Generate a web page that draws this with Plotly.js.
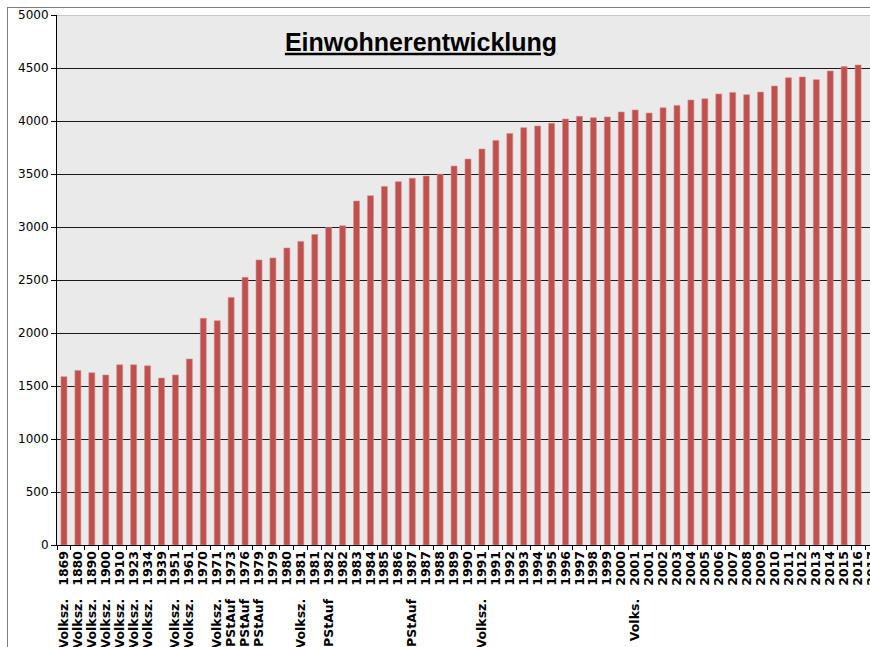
<!DOCTYPE html>
<html>
<head>
<meta charset="utf-8">
<script src="https://cdn.plot.ly/plotly-3.0.1.min.js"></script>
<style>
  html, body { margin: 0; padding: 0; overflow: hidden; background: #fff; }
  #wrap { position: relative; width: 870px; height: 647px; overflow: hidden; }
  #chart { position: absolute; left: 0; top: 0; }
  #frame { position: absolute; left: 7px; top: 7px; width: 900px; height: 700px;
           border-left: 1.5px solid #7f7f7f; border-top: 1.5px solid #7f7f7f;
           pointer-events: none; }
</style>
</head>
<body>
<div id="wrap">
  <div id="chart"></div>
  <div id="frame"></div>
</div>
<script>
// Label prefixes (survey type) and years for each column
var prefixes = [
  "Volksz.", "Volksz.", "Volksz.", "Volksz.", "Volksz.", "Volksz.", "Volksz.", "",
  "Volksz.", "Volksz.", "", "Volksz.", "PStAuf", "PStAuf", "PStAuf", "", "",
  "Volksz.", "", "PStAuf", "", "", "", "", "", "PStAuf", "", "", "", "",
  "Volksz.", "", "", "", "", "", "", "", "", "", "", "Volks.", "", "", "",
  "", "", "", "", "", "", "", "", "", "", "", "", "", ""
];
var years = [
  "1869", "1880", "1890", "1900", "1910", "1923", "1934", "1939",
  "1951", "1961", "1970", "1971", "1973", "1976", "1979", "1979", "1980",
  "1981", "1981", "1982", "1982", "1983", "1984", "1985", "1986", "1987", "1987", "1988", "1989", "1990",
  "1991", "1991", "1992", "1993", "1994", "1995", "1996", "1997", "1998", "1999", "2000", "2001", "2001", "2002", "2003",
  "2004", "2005", "2006", "2007", "2008", "2009", "2010", "2011", "2012", "2013", "2014", "2015", "2016", "2017"
];
// Inhabitants
var population = [
  1588, 1647, 1625, 1604, 1700, 1700, 1690, 1575,
  1604, 1755, 2138, 2116, 2336, 2525, 2689, 2708, 2802,
  2864, 2929, 2996, 3012, 3245, 3295, 3383, 3428, 3459, 3481, 3497, 3575, 3641,
  3736, 3817, 3883, 3937, 3953, 3978, 4019, 4044, 4031, 4038, 4085, 4104, 4075, 4125, 4147,
  4198, 4210, 4255, 4270, 4248, 4273, 4330, 4408, 4415, 4390, 4472, 4513, 4528, null
];
var chartTitle = "Einwohnerentwicklung";

var categories = years.map(function (y, i) {
  return prefixes[i] ? prefixes[i] + "\u00a0\u00a0\u00a0" + y : y;
});

var trace = {
  type: "bar",
  x: categories,
  y: population,
  marker: { color: "#c0504d", line: { color: "#d58d8b", width: 0.6 } },
  hoverinfo: "skip"
};

var layout = {
  width: 900,
  height: 647,
  margin: { l: 57, r: 21, t: 15, b: 102, pad: 0 },
  paper_bgcolor: "#ffffff",
  plot_bgcolor: "#eaeaea",
  bargap: 0.57,
  showlegend: false,
  title: {
    text: "<b><u>" + chartTitle + "</u></b>",
    xref: "container", yref: "container",
    x: 421 / 900, xanchor: "center",
    y: 1 - 42 / 647, yanchor: "middle",
    font: { family: "Liberation Sans, Arial, sans-serif", size: 25, color: "#000" }
  },
  xaxis: {
    type: "category",
    tickmode: "array",
    tickvals: categories,
    ticktext: categories,
    tickangle: -90,
    tickson: "boundaries",
    ticks: "outside",
    ticklen: 4,
    tickcolor: "#000",
    tickwidth: 1,
    showline: true,
    linecolor: "#000",
    linewidth: 1,
    showgrid: false,
    tickfont: { family: "DejaVu Sans, Verdana, sans-serif", size: 12.5, color: "#000", weight: "bold" },
    automargin: false
  },
  yaxis: {
    range: [0, 5000],
    dtick: 500,
    tick0: 0,
    ticks: "outside",
    ticklen: 5,
    tickcolor: "#000",
    tickwidth: 1,
    showline: true,
    linecolor: "#000",
    linewidth: 1,
    showgrid: true,
    gridcolor: "#1a1a1a",
    gridwidth: 1,
    zeroline: false,
    tickfont: { family: "DejaVu Sans, Verdana, sans-serif", size: 12, color: "#000" },
    automargin: false
  },
  shapes: [{
    type: "line", xref: "paper", yref: "y",
    x0: 0, x1: 1, y0: 5000, y1: 5000,
    line: { color: "#c8c8c8", width: 2 }, layer: "above"
  }]
};

Plotly.newPlot("chart", [trace], layout, { staticPlot: true, displayModeBar: false });
</script>
</body>
</html>
